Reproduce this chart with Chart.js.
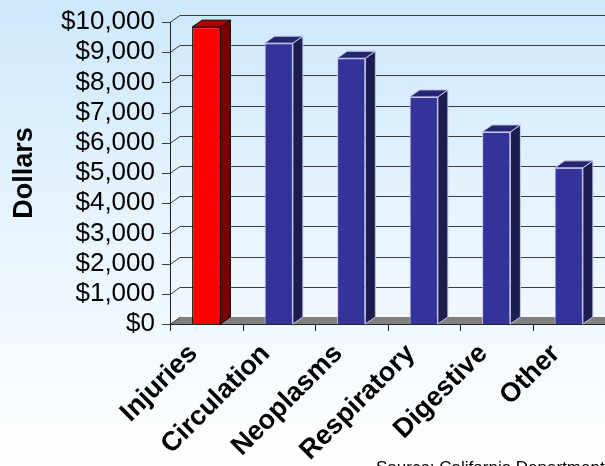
<!DOCTYPE html>
<html>
<head>
<meta charset="utf-8">
<script src="https://cdn.jsdelivr.net/npm/chart.js@4/dist/chart.umd.min.js"></script>
<style>
  html, body { margin: 0; padding: 0; }
  body { width: 605px; height: 466px; overflow: hidden;
         background: linear-gradient(to bottom, #cde8fb 0%, #e6f3fd 45%, #ffffff 100%); }
  canvas { display: block; }
</style>
</head>
<body>
<canvas id="chart" width="605" height="466"></canvas>
<script>
// data
const categories = ["Injuries", "Circulation", "Neoplasms", "Respiratory", "Digestive", "Other"];
const costs = [9830, 9300, 8800, 7520, 6360, 5170];
const yMax = 10000;
const yStep = 1000;
const sourceNote = "Source: California Department";

const FONT = "'Liberation Sans', Arial, sans-serif";
const DX = 10, DY = -7; // depth of the 3d look

// colours per bar: front, side, top, outline
const front = categories.map((c, i) => i === 0 ? "#ff0000" : "#333399");
const side = categories.map((c, i) => i === 0 ? "#7a0000" : "#1c1c4e");
const top_ = categories.map((c, i) => i === 0 ? "#b00000" : "#262670");
const edge = categories.map((c, i) => i === 0 ? "#000000" : "#c8c8ec");

// back wall, floor and axis lines
const walls = {
  id: "walls",
  beforeDatasetsDraw(chart) {
    const ctx = chart.ctx, a = chart.chartArea, ys = chart.scales.y;
    ctx.save();
    // floor
    ctx.fillStyle = "#808080";
    ctx.beginPath();
    ctx.moveTo(a.left, a.bottom);
    ctx.lineTo(a.left + DX, a.bottom + DY);
    ctx.lineTo(a.right, a.bottom + DY);
    ctx.lineTo(a.right, a.bottom);
    ctx.closePath();
    ctx.fill();
    // grid lines on back wall
    ctx.lineWidth = 1;
    ys.ticks.forEach(t => {
      const py = Math.round(ys.getPixelForValue(t.value)) + 0.5;
      ctx.strokeStyle = "#3c3c3c";
      ctx.beginPath();
      ctx.moveTo(a.left - 8, py);
      ctx.lineTo(a.left, py);
      ctx.lineTo(a.left + DX, py + DY);
      if (t.value > 0) ctx.lineTo(a.right, py + DY);
      ctx.stroke();
    });
    // front axis lines
    ctx.strokeStyle = "#222222";
    ctx.beginPath();
    ctx.moveTo(a.left + 0.5, a.top);
    ctx.lineTo(a.left + 0.5, a.bottom + 7);
    ctx.moveTo(a.left, a.bottom + 0.5);
    ctx.lineTo(a.right, a.bottom + 0.5);
    ctx.stroke();
    // category ticks
    const band = (a.right - a.left) / categories.length;
    ctx.beginPath();
    for (let i = 1; i < categories.length; i++) {
      const px = Math.round(a.left + i * band) + 0.5;
      ctx.moveTo(px, a.bottom);
      ctx.lineTo(px, a.bottom + 7);
    }
    ctx.stroke();
    ctx.restore();
  },
  afterDatasetsDraw(chart) {
    const ctx = chart.ctx;
    ctx.save();
    ctx.lineWidth = 1;
    chart.getDatasetMeta(0).data.forEach((bar, i) => {
      const l = bar.x - bar.width / 2, r = bar.x + bar.width / 2;
      const t = bar.y, b = bar.base;
      ctx.strokeStyle = edge[i];
      // side face
      ctx.fillStyle = side[i];
      ctx.beginPath();
      ctx.moveTo(r, t);
      ctx.lineTo(r + DX, t + DY);
      ctx.lineTo(r + DX, b + DY);
      ctx.lineTo(r, b);
      ctx.closePath();
      ctx.fill();
      ctx.stroke();
      // top face
      ctx.fillStyle = top_[i];
      ctx.beginPath();
      ctx.moveTo(l, t);
      ctx.lineTo(l + DX, t + DY);
      ctx.lineTo(r + DX, t + DY);
      ctx.lineTo(r, t);
      ctx.closePath();
      ctx.fill();
      ctx.stroke();
    });
    ctx.restore();
  },
  afterDraw(chart) {
    const ctx = chart.ctx;
    ctx.save();
    ctx.fillStyle = "#000000";
    ctx.font = "17px " + FONT;
    ctx.textBaseline = "alphabetic";
    ctx.fillText(sourceNote, 376, 473);
    ctx.restore();
  }
};

new Chart(document.getElementById("chart").getContext("2d"), {
  type: "bar",
  data: {
    labels: categories,
    datasets: [{
      data: costs,
      backgroundColor: front,
      borderColor: edge,
      borderWidth: 1,
      barPercentage: 0.39,
      categoryPercentage: 1
    }]
  },
  options: {
    responsive: false,
    animation: false,
    layout: { padding: { left: 4, top: 22, right: 0, bottom: 0 } },
    plugins: { legend: { display: false }, tooltip: { enabled: false } },
    scales: {
      x: {
        grid: { display: false, drawTicks: false },
        border: { display: false },
        ticks: {
          color: "#000000",
          font: { family: FONT, size: 27, weight: "bold" },
          minRotation: 45,
          maxRotation: 45,
          autoSkip: false,
          padding: 14,
          labelOffset: -13
        },
        afterFit(scale) {
          scale.height = 142;
          scale.paddingLeft = 0;
          scale.paddingRight = 0;
        }
      },
      y: {
        min: 0,
        max: yMax,
        grid: { display: false, drawTicks: false },
        border: { display: false },
        ticks: {
          stepSize: yStep,
          autoSkip: false,
          color: "#000000",
          padding: 15,
          font: { family: FONT, size: 26 },
          callback: v => "$" + v.toLocaleString("en-US")
        },
        title: {
          display: true,
          text: "Dollars",
          color: "#000000",
          font: { family: FONT, size: 27, weight: "bold" }
        },
        afterFit(scale) {
          scale.width = 166;
          scale.paddingTop = 0;
          scale.paddingBottom = 0;
        }
      }
    }
  },
  plugins: [walls]
});
</script>
</body>
</html>
